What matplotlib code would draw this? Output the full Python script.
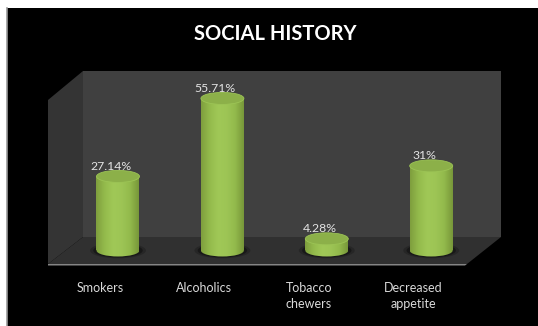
import matplotlib
matplotlib.use("Agg")
import matplotlib.pyplot as plt
from matplotlib.colors import LinearSegmentedColormap
from matplotlib.patches import Ellipse, Polygon
import numpy as np

# Data
categories = ["Smokers", "Alcoholics", "Tobacco\nchewers", "Decreased\nappetite"]
values = [27.14, 55.71, 4.28, 31]
value_labels = ["27.14%", "55.71%", "4.28%", "31%"]

W, H = 538, 326
X0, DX = 118.0, 104.4   # pixel x of first bar, spacing
Y0, DY = 250.5, 2.73    # pixel y of zero, pixels per percent
BAR_W = 43 / DX
ELL_H = 12 / DY

plt.rcParams['font.family'] = ['Lato', 'DejaVu Sans']

fig = plt.figure(figsize=(W / 100, H / 100), dpi=100, facecolor='white')
ax = fig.add_axes([0, 0, 1, 1])
ax.axis('off')

# everything that is not data is placed in pixels from the top left
def to_data(x, y):
    return ((x - X0) / DX, (Y0 - y) / DY)

def poly(points, **kw):
    ax.add_patch(Polygon([to_data(*p) for p in points], closed=True, **kw))

# black slide behind the chart
poly([(7, 8), (538, 8), (538, 326), (7, 326)], fc='black', ec='none', zorder=0)
ax.plot(*zip(to_data(6.5, 8), to_data(6.5, 326)), color='#999999', lw=1.2, zorder=0)

# 3d box
poly([(83, 71), (501, 71), (501, 237), (83, 237)], fc='#404040', ec='none', zorder=1)
poly([(48, 100), (83, 71), (83, 237), (48, 264)], fc='#343434', ec='none', zorder=1)
poly([(83, 237), (501, 237), (467, 264), (48, 264)], fc='#303030', ec='none', zorder=1)
poly([(48, 264), (467, 264), (465, 265.5), (48, 265.5)], fc='#858585', ec='none', zorder=2)

# cylinders
body = LinearSegmentedColormap.from_list(
    'body', ['#7f9f3e', '#94bb4c', '#a0c857', '#9dc555', '#93ba4c', '#78983a'])
grad = np.linspace(0, 1, 64).reshape(1, -1)

for i, v in enumerate(values):
    # soft shadow on the floor
    for grow, alpha in [(1.3, 0.2), (1.15, 0.35)]:
        ax.add_patch(Ellipse((i, 0), BAR_W * grow, ELL_H * grow, fc='black',
                             ec='none', alpha=alpha, zorder=3))
    rect = ax.bar(i, v, width=BAR_W, color='none', zorder=4)[0]
    bottom = Ellipse((i, 0), BAR_W, ELL_H, fc='none', ec='none', zorder=4)
    ax.add_patch(bottom)
    left = i - BAR_W / 2
    im = ax.imshow(grad, extent=[left, left + BAR_W, 0, v], cmap=body, aspect='auto',
                   zorder=4, interpolation='bilinear')
    im.set_clip_path(rect)
    im2 = ax.imshow(grad, extent=[left, left + BAR_W, -ELL_H, ELL_H], cmap=body, aspect='auto',
                    zorder=4, interpolation='bilinear')
    im2.set_clip_path(bottom)
    ax.add_patch(Ellipse((i, v), BAR_W, ELL_H, fc='#8cb049', ec='#9cc455', lw=0.6, zorder=5))
    ax.text(i - 7 / DX, v + 10 / DY, value_labels[i], color='#e4e4e4', fontsize=8.8,
            ha='center', va='center', zorder=6)

ax.set_xlim((0 - X0) / DX, (W - X0) / DX)
ax.set_ylim((Y0 - H) / DY, Y0 / DY)

# category labels
for i, c in enumerate(categories):
    ax.text(i - 18 / DX, to_data(0, 282)[1], c, color='#d9d9d9', fontsize=9, ha='center',
            va='top', linespacing=1.45, zorder=6)

ax.text((275 - X0) / DX, to_data(0, 34)[1], "SOCIAL HISTORY", color='white', fontsize=14.5,
        fontweight='bold', ha='center', va='center', zorder=6)

fig.savefig("out.png", dpi=100, facecolor='white')
